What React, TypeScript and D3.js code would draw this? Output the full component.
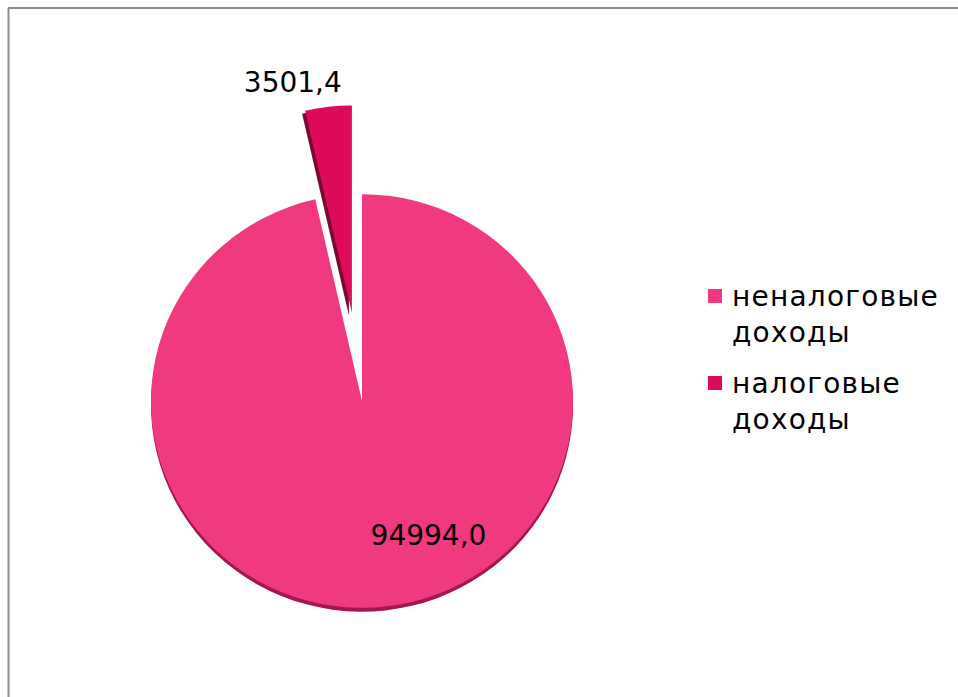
import React from "react";
import * as d3 from "d3";

const categories = ["неналоговые доходы", "налоговые доходы"];
const values = [94994.0, 3501.4];
const valueLabels = ["94994,0", "3501,4"];
const legendLines = [["неналоговые", "доходы"], ["налоговые", "доходы"]];
const colors = ["#f1397f", "#de0a5a"];
const depthColors = ["#a3164f", "#7a0a32"];

const W = 958;
const H = 697;
const cx = 362;
const cy = 401;
const R = 211;
const EXPLODE = [0, 91];
const DEPTH = [[0, 4], [-3, 3]];
const FONT = "'DejaVu Sans', 'Open Sans', sans-serif";

export default function App() {
  const pie = d3.pie<number>().sort(null).value((d) => d)(values);
  const arc = d3.arc<d3.PieArcDatum<number>>().innerRadius(0).outerRadius(R);

  const slices = pie.map((p, i) => {
    const mid = (p.startAngle + p.endAngle) / 2;
    const dx = Math.sin(mid) * EXPLODE[i];
    const dy = -Math.cos(mid) * EXPLODE[i];
    return { p, i, dx, dy, path: arc(p) as string };
  });

  const small = slices[1];
  // label positions derived from slice geometry
  const smallTop = { x: cx + small.dx, y: cy + small.dy - R * 0.98 };
  const bigCentroid = arc.centroid(slices[0].p);

  return (
    <svg
      width={W}
      height={H}
      style={{ position: "absolute", left: 0, top: 0, background: "#fff" }}
    >
      <rect x={0} y={0} width={W} height={H} fill="#fff" />
      <line x1={8.5} y1={8} x2={8.5} y2={H} stroke="#8c8c8c" strokeWidth={2} />
      <line x1={8} y1={8} x2={W} y2={8} stroke="#8c8c8c" strokeWidth={2} />

      <g transform={`translate(${cx},${cy}) scale(1,0.98)`}>
        {slices.map((s) => (
          <path
            key={"d" + s.i}
            d={s.path}
            fill={depthColors[s.i]}
            transform={`translate(${s.dx + DEPTH[s.i][0]},${s.dy + DEPTH[s.i][1]})`}
          />
        ))}
        {slices.map((s) => (
          <path
            key={"s" + s.i}
            d={s.path}
            fill={colors[s.i]}
            transform={`translate(${s.dx},${s.dy})`}
          />
        ))}
      </g>

      <text
        x={smallTop.x - 10}
        y={smallTop.y - 12}
        textAnchor="end"
        fontFamily={FONT}
        fontSize={28}
        fill="#000"
      >
        {valueLabels[1]}
      </text>
      <text
        x={cx + bigCentroid[0] * 0.05 + 8}
        y={cy + 144}
        textAnchor="start"
        fontFamily={FONT}
        fontSize={28}
        fill="#000"
      >
        {valueLabels[0]}
      </text>

      {categories.map((c, i) => (
        <g key={c} transform={`translate(708,${289 + i * 87})`}>
          <rect x={0} y={0} width={14} height={14} fill={colors[i]} />
          {legendLines[i].map((ln, j) => (
            <text
              key={j}
              x={24}
              y={17 + j * 36}
              fontFamily={FONT}
              fontSize={28}
              letterSpacing={1.2}
              fill="#000"
            >
              {ln}
            </text>
          ))}
        </g>
      ))}
    </svg>
  );
}
